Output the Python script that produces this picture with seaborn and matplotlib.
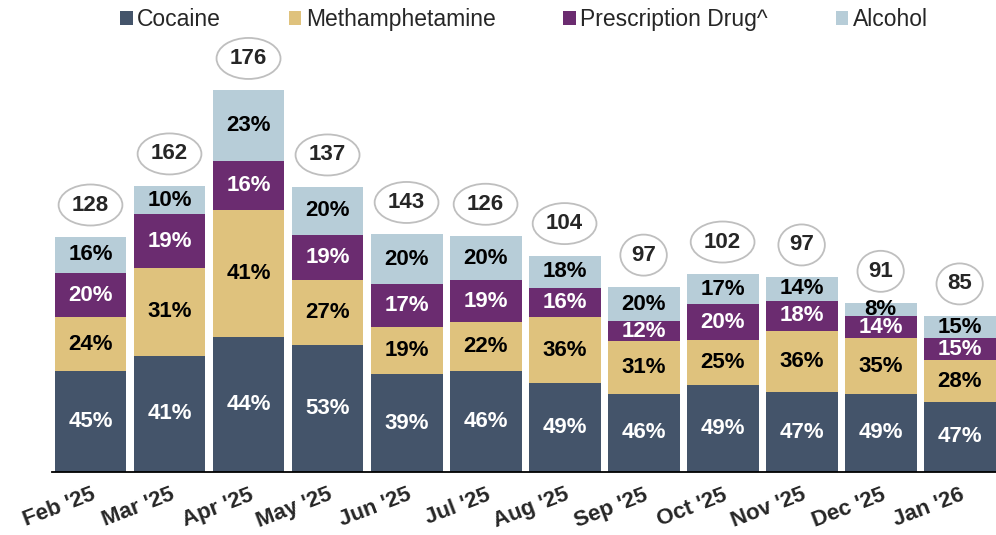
import matplotlib
matplotlib.use('Agg')
import matplotlib.pyplot as plt
from matplotlib.patches import Patch
import pandas as pd
import seaborn as sns

# values
months = ["Feb '25", "Mar '25", "Apr '25", "May '25", "Jun '25", "Jul '25",
          "Aug '25", "Sep '25", "Oct '25", "Nov '25", "Dec '25", "Jan '26"]
totals = [128, 162, 176, 137, 143, 126, 104, 97, 102, 97, 91, 85]
cocaine = [45, 41, 44, 53, 39, 46, 49, 46, 49, 47, 49, 47]
meth = [24, 31, 41, 27, 19, 22, 36, 31, 25, 36, 35, 28]
presc = [20, 19, 16, 19, 17, 19, 16, 12, 20, 18, 14, 15]
alcohol = [16, 10, 23, 20, 20, 20, 18, 20, 17, 14, 8, 15]

names = ['Cocaine', 'Methamphetamine', 'Prescription Drug^', 'Alcohol']
colors = ['#44546A', '#DFC27D', '#6B2C70', '#B7CDD8']
text_colors = ['white', 'black', 'white', 'black']
pcts = [cocaine, meth, presc, alcohol]

sns.set_theme(style='white')
plt.rcParams['font.family'] = ['Liberation Sans', 'DejaVu Sans']

# segment heights = share of total (shares can sum over 100%)
df = pd.DataFrame({'month': months, 'total': totals})
tops = []
running = [0] * len(months)
for p in pcts:
    running = [r + t * v / 100 for r, t, v in zip(running, totals, p)]
    tops.append(running)

fig = plt.figure(figsize=(9.96, 5.35), dpi=100)
ax = fig.add_axes([0.052, 0.118, 0.948, 0.807])

# draw cumulative bars back to front so they look stacked
for i in reversed(range(len(names))):
    df['cum'] = tops[i]
    sns.barplot(data=df, x='month', y='cum', color=colors[i], saturation=1,
                width=0.91, linewidth=0, edgecolor='none', ax=ax)

# percentage labels in the middle of each segment
for i in range(len(names)):
    for j in range(len(months)):
        lo = tops[i - 1][j] if i > 0 else 0
        hi = tops[i][j]
        ax.text(j, (lo + hi) / 2, f'{pcts[i][j]}%', ha='center', va='center',
                color=text_colors[i], fontsize=16, fontweight='bold')

# totals in ellipses above the bars
for j in range(len(months)):
    ax.annotate(str(totals[j]), (j, tops[-1][j]), xytext=(0, 23),
                textcoords='offset points', ha='center', va='center',
                fontsize=16, fontweight='bold',
                bbox=dict(boxstyle='ellipse,pad=0.18', fc='white', ec='#BFBFBF', lw=1.3))

ax.set_xlim(-0.49, 11.46)
ax.set_ylim(0, 247)
ax.set_xlabel('')
ax.set_ylabel('')
ax.set_yticks([])
for s in ['left', 'right', 'top']:
    ax.spines[s].set_visible(False)
ax.spines['bottom'].set_color('black')
ax.spines['bottom'].set_linewidth(1.3)
ax.tick_params(axis='x', length=0, pad=9)
plt.setp(ax.get_xticklabels(), rotation=21, ha='right', rotation_mode='anchor',
         fontsize=16, fontweight='bold')

handles = [Patch(facecolor=c, edgecolor='none') for c in colors]
fig.legend(handles, names, loc='upper center', bbox_to_anchor=(0.526, 1.024), ncol=4,
           frameon=False, fontsize=16.5, handlelength=0.55, handleheight=0.55,
           handletextpad=0.2, columnspacing=2.95)

fig.savefig('out.png', dpi=100)
